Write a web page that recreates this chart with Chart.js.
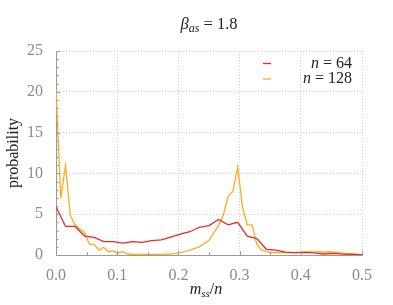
<!DOCTYPE html>
<html><head><meta charset="utf-8">
<script src="https://cdn.jsdelivr.net/npm/chart.js@4.4.1/dist/chart.umd.min.js"></script>
<style>html,body{margin:0;padding:0;background:#fff}#wrap{width:393px;height:305px}</style>
</head><body><div id="wrap"><canvas id="c" width="393" height="305"></canvas></div>
<script>
// probability distributions of m_ss/n, beta_as = 1.8
const n64 = 64;
const n128 = 128;
const prob64 = [5.9,3.5,3.5,2.3,2.15,1.65,1.65,1.45,1.65,1.55,1.75,1.85,2.2,2.55,2.85,3.4,3.6,4.35,3.7,4.0,2.3,2.0,0.7,0.6,0.35,0.3,0.28,0.25,0.12,0.2,0.1,0.08,0.0];
const prob128 = [20.3,7.0,11.0,4.8,3.7,3.2,2.7,1.3,1.3,0.6,0.95,0.37,0.5,0.25,0.4,0.12,0.08,0.08,0.06,0.06,0.06,0.06,0.08,0.1,0.12,0.2,0.3,0.45,0.6,0.8,1.0,1.4,1.8,2.7,3.6,4.9,7.2,7.8,10.8,5.9,3.7,3.7,1.3,0.6,0.4,0.3,0.3,0.28,0.28,0.3,0.3,0.35,0.4,0.4,0.35,0.45,0.35,0.4,0.35,0.35,0.2,0.2,0.15,0.1,0.02];
const xTicks = [0.0,0.1,0.2,0.3,0.4,0.5];
const yTicks = [0,5,10,15,20,25];
const titleParts = [['β','i'],['as','s'],[' = 1.8','n']];
const xLabelParts = [['m','i'],['ss','s'],['/','n'],['n','i']];
const legendEntries = [
  {parts:[['n','i'],[' = 64','n']], color:'#f02525'},
  {parts:[['n','i'],[' = 128','n']], color:'#ffaa1e'}
];

const FONT = '"Liberation Serif", "Times New Roman", serif';
const toPts = (vals, n) => vals.map((v, i) => ({x: i / n, y: v}));

function drawParts(ctx, parts, x, y, align, size) {
  const fontFor = k => k === 'i' ? `italic ${size}px ${FONT}` : k === 's' ? `italic ${Math.round(size*0.7)}px ${FONT}` : `${size}px ${FONT}`;
  let w = 0;
  parts.forEach(p => { ctx.font = fontFor(p[1]); w += ctx.measureText(p[0]).width; });
  let cx = align === 'center' ? x - w/2 : align === 'right' ? x - w : x;
  ctx.textAlign = 'left'; ctx.textBaseline = 'alphabetic';
  parts.forEach(p => {
    ctx.font = fontFor(p[1]);
    ctx.fillText(p[0], cx, p[1] === 's' ? y + 3 : y);
    cx += ctx.measureText(p[0]).width;
  });
}

const deco = {
  id: 'deco',
  afterDraw(chart) {
    const ctx = chart.ctx, xs = chart.scales.x, ys = chart.scales.y, a = chart.chartArea;
    ctx.save();
    // inner ticks
    ctx.strokeStyle = '#9a9a9a'; ctx.lineWidth = 1;
    ctx.beginPath();
    for (let v = 0; v <= 25; v++) {
      const py = Math.round(ys.getPixelForValue(v)) + 0.5;
      ctx.moveTo(a.left, py); ctx.lineTo(a.left + (v % 5 === 0 ? 4 : 2.5), py);
    }
    for (let i = 0; i <= 10; i++) {
      const px = Math.round(xs.getPixelForValue(i * 0.05)) + 0.5;
      ctx.moveTo(px, a.bottom); ctx.lineTo(px, a.bottom - (i % 2 === 0 ? 4 : 3));
    }
    ctx.stroke();
    // title
    ctx.fillStyle = '#222';
    drawParts(ctx, titleParts, (a.left + a.right) / 2, 29, 'center', 16.5);
    // x label
    drawParts(ctx, xLabelParts, (a.left + a.right) / 2 - 3, 294, 'center', 16);
    // legend
    legendEntries.forEach((e, i) => {
      const y = 63 + i * 15.5;
      ctx.strokeStyle = e.color; ctx.lineWidth = 1.3;
      ctx.beginPath(); ctx.moveTo(263, y + 0.5); ctx.lineTo(271, y + 0.5); ctx.stroke();
      ctx.fillStyle = '#222';
      drawParts(ctx, e.parts, 352, y + 4.5, 'right', 16);
    });
    ctx.restore();
  }
};

new Chart(document.getElementById('c'), {
  type: 'line',
  data: {
    datasets: [
      {label: 'n = 64', data: toPts(prob64, n64), borderColor: '#f02525', borderWidth: 1.3, pointRadius: 0, tension: 0, fill: false},
      {label: 'n = 128', data: toPts(prob128, n128), borderColor: '#ffaa1e', borderWidth: 1.3, pointRadius: 0, tension: 0, fill: false}
    ]
  },
  options: {
    responsive: false, animation: false, devicePixelRatio: 1,
    layout: {padding: {left: 0, right: 31, top: 51, bottom: 0}},
    plugins: {legend: {display: false}, title: {display: false}, tooltip: {enabled: false}},
    scales: {
      x: {
        type: 'linear', min: 0, max: 0.5,
        afterBuildTicks: s => { s.ticks = xTicks.map(v => ({value: v})); },
        afterFit: s => { s.height = 50; },
        grid: {color: '#cfcfcf', lineWidth: 1, drawTicks: false},
        border: {display: true, color: '#9a9a9a', width: 1, dash: [1, 2]},
        ticks: {padding: 11, color: '#8a8a8a', font: {family: FONT, size: 16}, callback: v => Number(v).toFixed(1)}
      },
      y: {
        min: 0, max: 25,
        afterBuildTicks: s => { s.ticks = yTicks.map(v => ({value: v})); },
        afterFit: s => { s.width = 56; },
        grid: {color: '#cfcfcf', lineWidth: 1, drawTicks: false},
        border: {display: true, color: '#9a9a9a', width: 1, dash: [1, 2]},
        ticks: {padding: 13, color: '#8a8a8a', font: {family: FONT, size: 16}},
        title: {display: true, text: 'probability', color: '#222', font: {family: FONT, size: 16}, padding: {top: 4, bottom: 0}}
      }
    }
  },
  plugins: [deco]
});
</script>
</body></html>
